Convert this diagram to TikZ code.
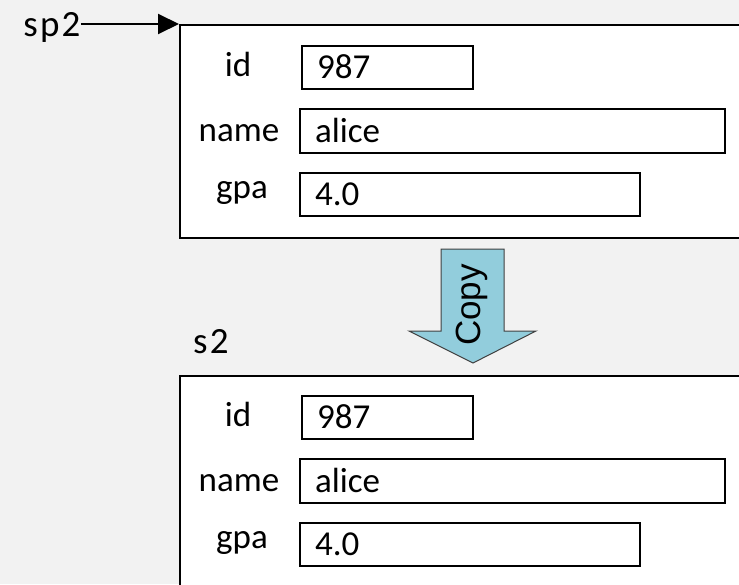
\documentclass[tikz,border=0pt]{standalone}
\usepackage{fontspec}
\setmainfont{Carlito}
\newfontfamily\arialfont{Liberation Sans}
\newfontfamily\spacedfont[LetterSpace=6]{Carlito}
\usetikzlibrary{arrows.meta}
\definecolor{bg}{HTML}{F2F2F2}
\definecolor{copyblue}{HTML}{92CDDC}
\definecolor{copyedge}{HTML}{404040}
\begin{document}
\begin{tikzpicture}[x=1pt,y=1pt,
  every node/.style={font=\fontsize{35}{40}\selectfont},
  structbox/.style={draw=black, line width=2.2pt, fill=white, anchor=north west,
    minimum width=640pt, minimum height=213pt, inner sep=0pt},
  fieldbox/.style={draw=black, line width=2.2pt, fill=white, anchor=north west,
    inner xsep=15pt, inner ysep=0pt, align=left, text height=22pt, text depth=0pt},
  fieldlabel/.style={anchor=base, inner sep=0pt},
  varname/.style={inner sep=0pt, font=\spacedfont\fontsize{37}{42}\selectfont},
  ptr/.style={line width=2pt, -{Triangle[length=21pt, width=20pt]}},
  copyarrow/.style={fill=copyblue, draw=copyedge, line width=1pt}
]
\useasboundingbox (0,0) rectangle (739,-584);
\fill[bg] (0,0) rectangle (739,-584);
\clip (0,0) rectangle (739,-584);

% ---------- top struct (pointed to by sp2) ----------
\node[structbox] (s1) at (179,-24) {};
\node[fieldlabel] (s1idl)   at (238,-76)  {id};
\node[fieldlabel] (s1namel) at (239,-141) {name};
\node[fieldlabel] (s1gpal)  at (242,-198) {gpa};
\node[fieldbox, minimum height=43pt, text width=141pt] (s1id)   at (301,-45)  {987};
\node[fieldbox, minimum height=44pt, text width=395pt] (s1name) at (299,-108) {alice};
\node[fieldbox, minimum height=43pt, text width=310pt] (s1gpa)  at (299,-172) {4.0};

\node[varname, anchor=base] (sp2) at (52,-36) {sp2};
\draw[ptr] (sp2.east |- s1.north west) -- (s1.north west);

% ---------- copy arrow ----------
\draw[copyarrow] (441,-249) -- (504,-249) -- (504,-331) -- (536,-331)
  -- (473,-363) -- (409,-331) -- (441,-331) -- cycle;
\node[rotate=90, inner sep=0pt, font=\arialfont\fontsize{35}{40}\selectfont] (copy) at (472,-305) {Copy};

% ---------- bottom struct s2 ----------
\node[varname, anchor=base west] (s2) at (193,-353) {s2};
\node[structbox] (t1) at (179,-375) {};
\node[fieldlabel] (t1idl)   at (238,-426) {id};
\node[fieldlabel] (t1namel) at (239,-491) {name};
\node[fieldlabel] (t1gpal)  at (242,-548) {gpa};
\node[fieldbox, minimum height=43pt, text width=141pt] (t1id)   at (301,-395) {987};
\node[fieldbox, minimum height=44pt, text width=395pt] (t1name) at (299,-458) {alice};
\node[fieldbox, minimum height=43pt, text width=310pt] (t1gpa)  at (299,-522) {4.0};
\end{tikzpicture}
\end{document}
